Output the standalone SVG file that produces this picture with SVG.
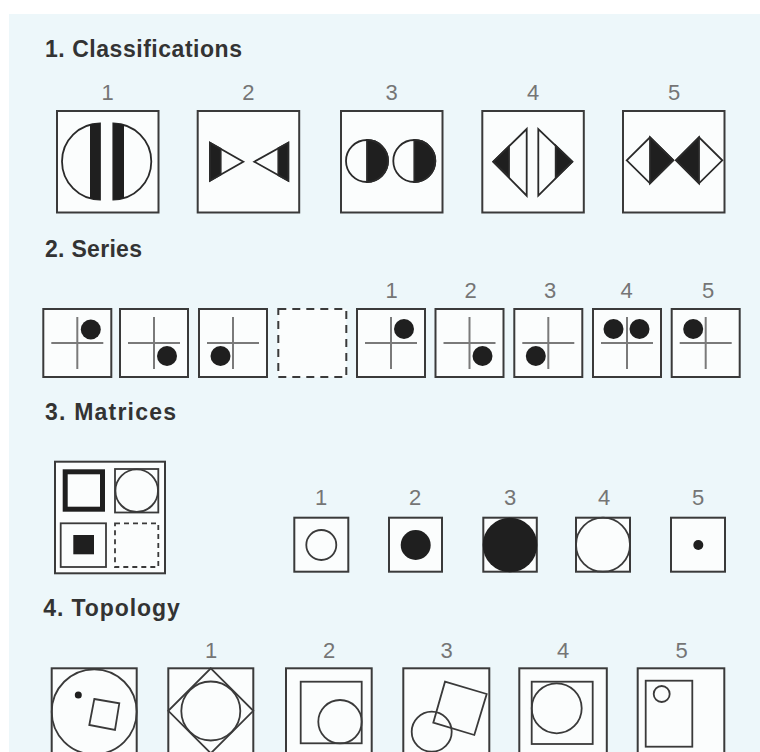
<svg xmlns="http://www.w3.org/2000/svg" width="760" height="752" viewBox="0 0 760 752">
<style>
.bg{fill:#edf7fa}
.title{font-family:"Liberation Sans",Arial,sans-serif;font-weight:bold;font-size:23px;fill:#333}
.num{font-family:"Liberation Sans",Arial,sans-serif;font-size:22px;fill:#757575;text-anchor:middle}
.box{fill:#fbfdfd;stroke:#3a3a3a;stroke-width:2}
.ln{fill:none;stroke:#3a3a3a;stroke-width:1.8}
.wf{fill:#fbfdfd;stroke:#2a2a2a;stroke-width:1.8}
.blk{fill:#1f1f1f}
.bk{fill:#1f1f1f;stroke:#2a2a2a;stroke-width:1.8}
.cross{stroke:#7a7a7a;stroke-width:2}
.dash{fill:#fbfdfd;stroke:#3a3a3a;stroke-width:2;stroke-dasharray:8 6}
</style>
<defs>
<g id="sbox"><rect class="box" x="0" y="0" width="68" height="68"/><line class="cross" x1="8" y1="34" x2="60" y2="34"/><line class="cross" x1="34" y1="8" x2="34" y2="60"/></g>
</defs>
<rect x="0" y="0" width="760" height="752" fill="#ffffff"/>
<rect class="bg" x="9" y="14" width="751" height="738"/>

<!-- Section 1 -->
<text class="title" x="45" y="57" textLength="197" lengthAdjust="spacing">1. Classifications</text>
<g id="labels1">
<text class="num" x="107.7" y="100">1</text>
<text class="num" x="248.4" y="100">2</text>
<text class="num" x="391.7" y="100">3</text>
<text class="num" x="533" y="100">4</text>
<text class="num" x="674" y="100">5</text>
</g>
<g id="c1">
<rect class="box" x="57" y="111" width="101.5" height="101.5"/>
<path class="wf" d="M100,123.5 A38,38 0 0 0 100,199.5 Z"/>
<path class="blk" d="M100,123.5 L100,199.5 A38,38 0 0 1 90,198.16 L90,124.84 A38,38 0 0 1 100,123.5 Z"/>
<path class="wf" d="M113.3,123.5 A38,38 0 0 1 113.3,199.5 Z"/>
<path class="blk" d="M113.3,123.5 A38,38 0 0 1 124,125.04 L124,197.96 A38,38 0 0 1 113.3,199.5 Z"/>
</g>
<g id="c2">
<rect class="box" x="197.7" y="111" width="101.5" height="101.5"/>
<polygon class="wf" points="210,142.7 243.3,161.7 210,180.7"/>
<polygon class="bk" points="210,142.7 220.7,148.8 220.7,174.6 210,180.7"/>
<polygon class="wf" points="288.3,142.7 254.3,161.7 288.3,180.7"/>
<polygon class="bk" points="288.3,142.7 278.3,148.3 278.3,175.1 288.3,180.7"/>
</g>
<g id="c3">
<rect class="box" x="341" y="111" width="101.5" height="101.5"/>
<circle class="wf" cx="367" cy="161" r="21"/>
<path class="bk" d="M367,140 A21,21 0 0 1 367,182 Z"/>
<circle class="wf" cx="414.3" cy="161" r="21"/>
<path class="bk" d="M414.3,140 A21,21 0 0 1 414.3,182 Z"/>
</g>
<g id="c4">
<rect class="box" x="482.3" y="111" width="101.5" height="101.5"/>
<polygon class="wf" points="493.3,161.7 526.7,129 526.7,195.7"/>
<polygon class="bk" points="493.3,161.7 509,146.3 509,177.1"/>
<polygon class="wf" points="572.3,161.7 538.3,129 538.3,195.7"/>
<polygon class="bk" points="572.3,161.7 555.7,145.7 555.7,177.7"/>
</g>
<g id="c5">
<rect class="box" x="623" y="111" width="101.5" height="101.5"/>
<polygon class="wf" points="626.7,160.3 650,137.3 673.3,160.3 650,183.3"/>
<polygon class="bk" points="650,137.3 673.3,160.3 650,183.3"/>
<polygon class="wf" points="676,160.3 699,137.3 722.3,160.3 699,183.3"/>
<polygon class="bk" points="699,137.3 676,160.3 699,183.3"/>
</g>

<!-- Section 2 -->
<text class="title" x="45" y="256.7" textLength="97" lengthAdjust="spacing">2. Series</text>
<g id="labels2">
<text class="num" x="391.7" y="298">1</text>
<text class="num" x="470.7" y="298">2</text>
<text class="num" x="550" y="298">3</text>
<text class="num" x="626.7" y="298">4</text>
<text class="num" x="708" y="298">5</text>
</g>
<g id="s1" transform="translate(43.3,309)"><use href="#sbox"/><circle class="blk" cx="47.5" cy="20.5" r="10"/></g>
<g id="s2" transform="translate(120,309)"><use href="#sbox"/><circle class="blk" cx="47" cy="47" r="10"/></g>
<g id="s3" transform="translate(199,309)"><use href="#sbox"/><circle class="blk" cx="21.5" cy="47" r="10"/></g>
<g id="s4" transform="translate(278.3,309)"><rect class="dash" x="0" y="0" width="68" height="68"/></g>
<g id="s5" transform="translate(357,309)"><use href="#sbox"/><circle class="blk" cx="47" cy="20" r="10"/></g>
<g id="s6" transform="translate(435.5,309)"><use href="#sbox"/><circle class="blk" cx="47" cy="47" r="10"/></g>
<g id="s7" transform="translate(514.3,309)"><use href="#sbox"/><circle class="blk" cx="21.5" cy="47" r="10"/></g>
<g id="s8" transform="translate(593,309)"><use href="#sbox"/><circle class="blk" cx="20.5" cy="20" r="10"/><circle class="blk" cx="46.5" cy="20" r="10"/></g>
<g id="s9" transform="translate(671.7,309)"><use href="#sbox"/><circle class="blk" cx="21.5" cy="20" r="10"/></g>

<!-- Section 3 -->
<text class="title" x="45" y="420" textLength="131" lengthAdjust="spacing">3. Matrices</text>
<g id="matrix">
<rect class="box" x="55" y="461.7" width="110" height="111.6"/>
<rect x="65.2" y="471.8" width="37.3" height="37.4" fill="#fbfdfd" stroke="#1f1f1f" stroke-width="5"/>
<rect class="ln" x="115" y="469" width="43.3" height="43.5"/>
<circle class="ln" cx="136.7" cy="490.7" r="21.3"/>
<rect class="ln" x="60.7" y="523.3" width="45.3" height="43.7"/>
<rect class="blk" x="73.3" y="535" width="20.7" height="19.3"/>
<rect x="115" y="523.3" width="43.3" height="43.7" fill="none" stroke="#3a3a3a" stroke-width="1.8" stroke-dasharray="5 4"/>
</g>
<g id="labels3">
<text class="num" x="321" y="505">1</text>
<text class="num" x="415" y="505">2</text>
<text class="num" x="510" y="505">3</text>
<text class="num" x="604" y="505">4</text>
<text class="num" x="698" y="505">5</text>
</g>
<g id="m1"><rect class="box" x="294.3" y="517.7" width="54" height="54"/><circle class="ln" cx="321.3" cy="545" r="15"/></g>
<g id="m2"><rect class="box" x="389" y="517.7" width="53" height="54"/><circle class="blk" cx="415.7" cy="545" r="15"/></g>
<g id="m3"><rect class="box" x="483.3" y="517.7" width="53.5" height="54"/><circle class="blk" cx="510" cy="545" r="27.3"/></g>
<g id="m4"><rect class="box" x="576" y="517.7" width="54" height="54"/><circle class="ln" cx="603" cy="544.7" r="27"/></g>
<g id="m5"><rect class="box" x="671" y="517.7" width="54" height="54"/><circle class="blk" cx="698.3" cy="545" r="5"/></g>

<!-- Section 4 -->
<text class="title" x="43.3" y="616" textLength="136.5" lengthAdjust="spacing">4. Topology</text>
<g id="labels4">
<text class="num" x="211" y="658">1</text>
<text class="num" x="329" y="658">2</text>
<text class="num" x="446.7" y="658">3</text>
<text class="num" x="563" y="658">4</text>
<text class="num" x="681.7" y="658">5</text>
</g>
<g id="t0">
<rect class="box" x="51.7" y="668.3" width="85" height="86"/>
<circle class="ln" cx="94.2" cy="711.8" r="42.5"/>
<circle class="blk" cx="78.3" cy="695" r="3.5"/>
<polygon class="ln" points="94.3,699 119.3,703.3 115,730 89.3,725"/>
</g>
<g id="t1">
<rect class="box" x="168.3" y="668.3" width="85" height="86"/>
<polygon class="ln" points="210.8,668.3 253.3,710.8 210.8,753.3 168.3,710.8"/>
<circle class="ln" cx="210.8" cy="711" r="29.5"/>
</g>
<g id="t2">
<rect class="box" x="286" y="668.3" width="85.7" height="86"/>
<rect class="ln" x="300.7" y="681.7" width="61" height="61.6"/>
<circle class="ln" cx="340" cy="721.7" r="21.7"/>
</g>
<g id="t3">
<rect class="box" x="403.3" y="668.3" width="86" height="86"/>
<polygon class="ln" points="445,681.7 486.7,694 474.3,735 433.3,722.7"/>
<circle class="ln" cx="431.7" cy="731.7" r="20"/>
</g>
<g id="t4">
<rect class="box" x="519.3" y="668.3" width="87.5" height="86"/>
<rect class="ln" x="531.7" y="681.7" width="61" height="62.3"/>
<circle class="ln" cx="556.7" cy="708.3" r="25"/>
</g>
<g id="t5">
<rect class="box" x="637.7" y="668.3" width="86.6" height="86"/>
<rect class="ln" x="645.7" y="680.7" width="46.6" height="66"/>
<circle class="ln" cx="661.7" cy="694" r="8"/>
</g>
<g id="connectors"/>
</svg>
